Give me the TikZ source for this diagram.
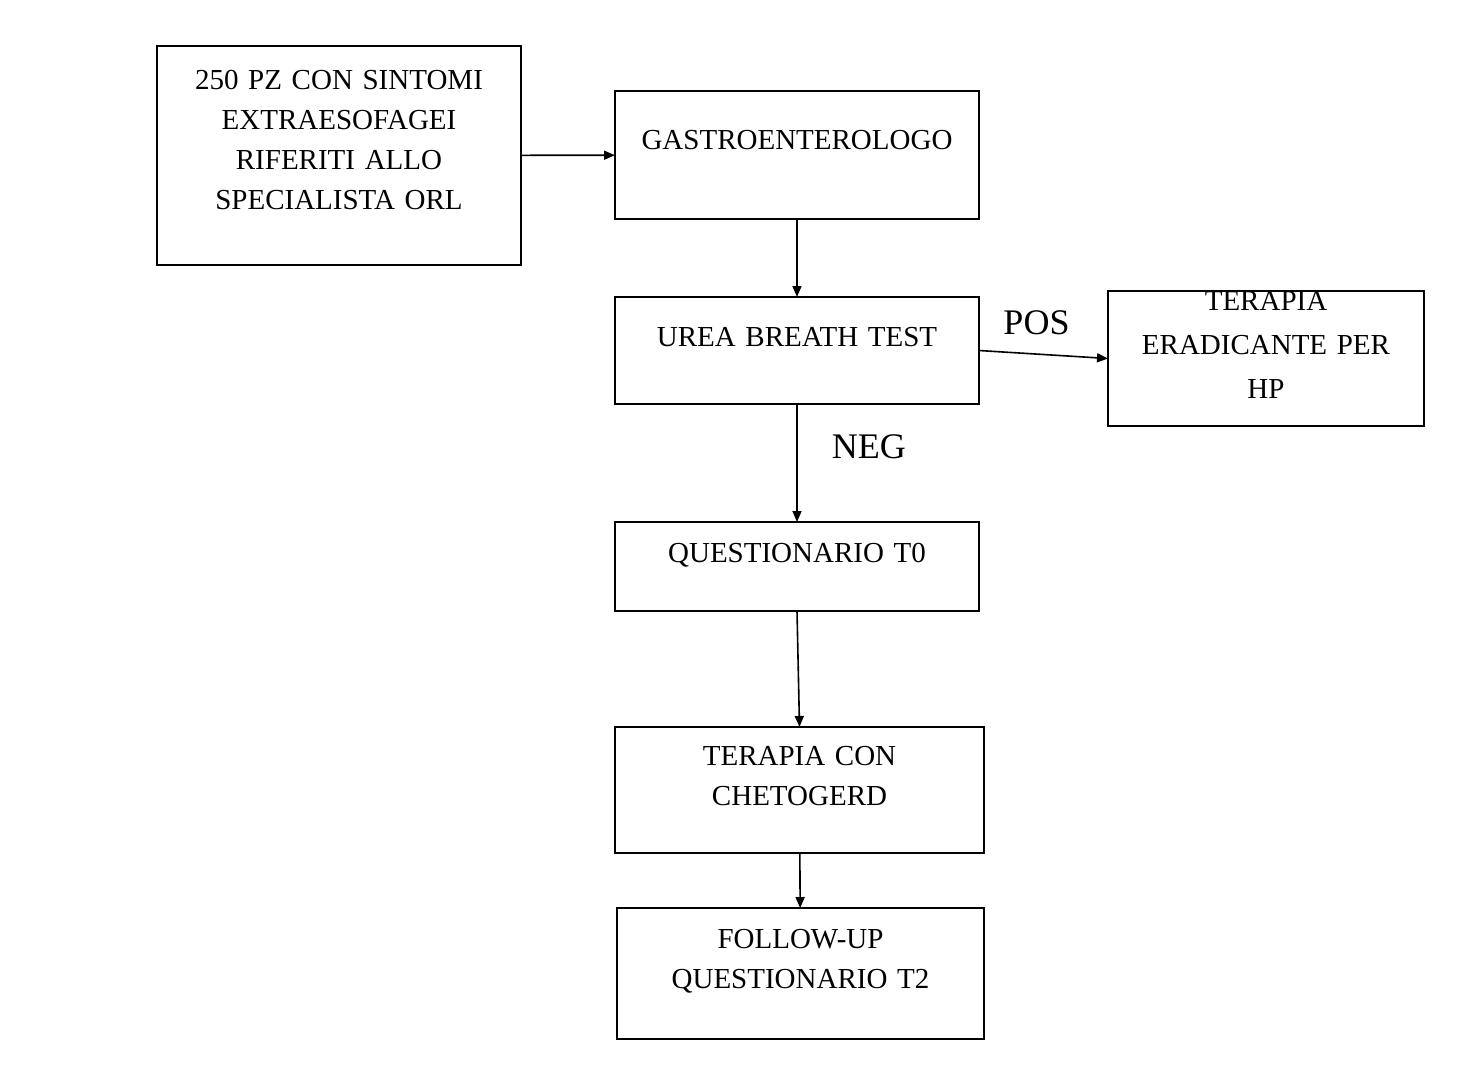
\documentclass[tikz,border=0pt]{standalone}
\usepackage{fontspec}
\setmainfont{Liberation Serif}[WordSpace=0.65]
\usepackage{tikz}
\usetikzlibrary{arrows.meta,positioning}
\tikzset{
  stage/.style={rectangle, draw=black, line width=2.5pt, inner sep=0pt, outer sep=0pt, align=center,
                font=\fontsize{29}{40}\selectfont},
  flow/.style={-{Triangle[length=11pt,width=9pt]}, draw=black, line width=1.6pt},
  lbl/.style={font=\fontsize{36}{43}\selectfont, inner sep=0pt}
}

\begin{document}
\begin{tikzpicture}
  \useasboundingbox (0,0) rectangle (1458pt,-1080pt);
  \node[stage, anchor=north west, text width=364pt, text height=43pt, text depth=176pt] (pz) at (157pt,-46pt)
    {250 PZ CON SINTOMI\\EXTRAESOFAGEI\\RIFERITI ALLO\\SPECIALISTA ORL};
  \node[stage, anchor=north west, text width=364pt, text height=58pt, text depth=70pt] (gas) at (615pt,-91pt)
    {GASTROENTEROLOGO};
  \node[stage, below=78pt of gas, text width=364pt, text height=49pt, text depth=58pt] (ubt) {UREA BREATH TEST};
  \node[stage, right=129pt of ubt, yshift=-8pt, text width=316pt, text height=19pt, text depth=116pt] (era)
    {TERAPIA\\[4pt]ERADICANTE PER\\[4pt]HP};
  \node[stage, below=118pt of ubt, text width=364pt, text height=40pt, text depth=49pt] (qt0) {QUESTIONARIO T0};
  \node[stage, below=116pt of qt0, xshift=2.5pt, text width=369pt, text height=38pt, text depth=88pt] (cheto)
    {TERAPIA CON\\CHETOGERD};
  \node[stage, below=55pt of cheto, xshift=1pt, text width=367pt, text height=40pt, text depth=91pt] (fup)
    {FOLLOW-UP\\QUESTIONARIO T2};
  \draw[flow] (pz) -- (gas);
  \draw[flow] (gas) -- (ubt);
  \draw[flow] (ubt.east) -- node[lbl, above=19pt, xshift=-7pt] {POS} (era.west);
  \draw[flow] (ubt) -- node[lbl, right=34pt, yshift=16pt] {NEG} (qt0);
  \draw[flow] (qt0.south) -- (cheto.north);
  \draw[flow] (cheto) -- (fup);
\end{tikzpicture}
\end{document}
